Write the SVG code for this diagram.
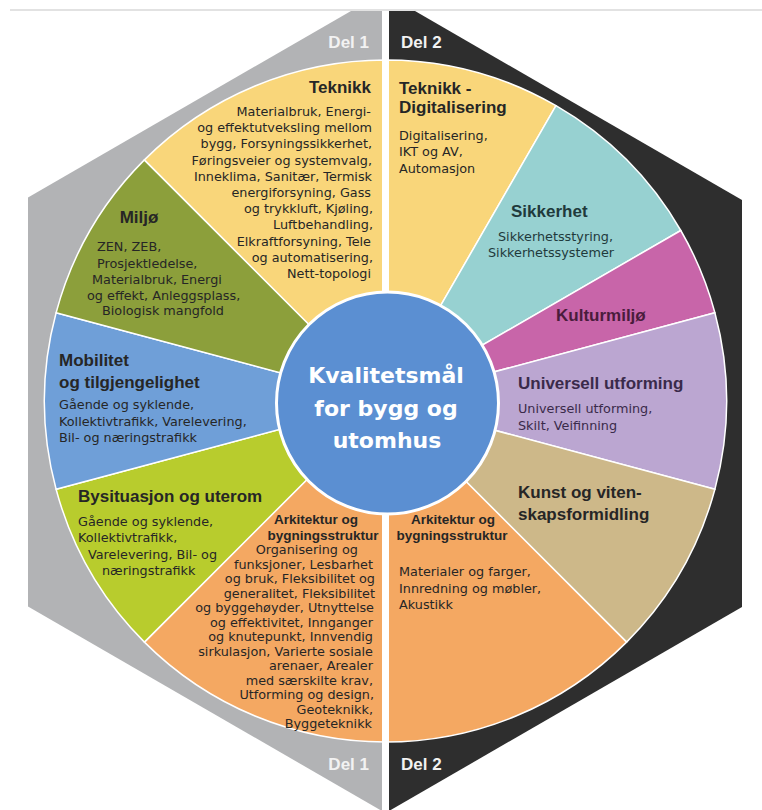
<svg xmlns="http://www.w3.org/2000/svg" width="762" height="810" viewBox="0 0 762 810">
<style>
.seg{stroke:#ffffff;stroke-width:1.5;stroke-linejoin:round}
.t{font-family:"Liberation Sans",Arial,sans-serif;font-weight:bold;font-size:17px;fill:#262626}
.b{font-family:"DejaVu Sans",sans-serif;font-size:12.8px;fill:#262626}
.s{font-family:"Liberation Sans",Arial,sans-serif;font-weight:bold;font-size:13.5px;fill:#262626}
.del{font-family:"Liberation Sans",Arial,sans-serif;font-weight:bold;font-size:17px;fill:#f2f2f2}
.c{font-family:"DejaVu Sans",sans-serif;font-weight:bold;font-size:22px;fill:#ffffff;text-anchor:middle}
.e{text-anchor:end}
.m{text-anchor:middle}
</style>
<rect x="0" y="0" width="762" height="810" fill="#ffffff"/>
<line x1="10" y1="10" x2="762" y2="10" stroke="#e2e2e2" stroke-width="2"/>

<g id="del1">
<polygon points="382,11 351,11 28,197.5 28,606.5 382,811" fill="#b2b3b5"/>
<text class="del e" x="369" y="48">Del 1</text>
<text class="del e" x="369" y="770">Del 1</text>
</g>
<g id="del2">
<polygon points="389,11 415,11 742,200 742,607 389,811" fill="#2e2e2e"/>
<text class="del" x="401" y="48">Del 2</text>
<text class="del" x="401" y="770">Del 2</text>
</g>

<g id="teknikk-digitalisering">
<path class="seg" fill="#f9d67a" d="M385.5,401 L385.5,60 A341,341 0 0 1 556,105.7 Z"/>
<text class="t" x="399" y="94">Teknikk -</text>
<text class="t" x="399" y="113">Digitalisering</text>
<text class="b" x="399" y="139.5">Digitalisering,</text>
<text class="b" x="399" y="156">IKT og AV,</text>
<text class="b" x="399" y="172.5">Automasjon</text>
</g>
<g id="sikkerhet">
<path class="seg" fill="#97d1d1" d="M385.5,401 L556,105.7 A341,341 0 0 1 680.8,230.5 Z"/>
<text class="t" x="511" y="217" style="fill:#1f3a3c">Sikkerhet</text>
<text class="b" x="498" y="241" style="fill:#1f3a3c">Sikkerhetsstyring,</text>
<text class="b" x="488" y="256.5" style="fill:#1f3a3c">Sikkerhetssystemer</text>
</g>
<g id="kulturmiljo">
<path class="seg" fill="#c865a9" d="M385.5,401 L680.8,230.5 A341,341 0 0 1 714.9,312.7 Z"/>
<text class="t" x="556" y="321" style="fill:#4a1c3c">Kulturmiljø</text>
</g>
<g id="universell-utforming">
<path class="seg" fill="#bba6d1" d="M385.5,401 L714.9,312.7 A341,341 0 0 1 714.9,489.3 Z"/>
<text class="t" x="518" y="389" style="fill:#3a2a4a">Universell utforming</text>
<text class="b" x="518" y="413" style="fill:#3a2a4a">Universell utforming,</text>
<text class="b" x="518" y="429.5" style="fill:#3a2a4a">Skilt, Veifinning</text>
</g>
<g id="kunst">
<path class="seg" fill="#cdb889" d="M385.5,401 L714.9,489.3 A341,341 0 0 1 626.6,642.1 Z"/>
<text class="t" x="518" y="498">Kunst og viten-</text>
<text class="t" x="518" y="520">skapsformidling</text>
</g>
<g id="arkitektur-del2">
<path class="seg" fill="#f4a862" d="M385.5,401 L626.6,642.1 A341,341 0 0 1 385.5,742 Z"/>
<text class="s m" x="453" y="524">Arkitektur og</text>
<text class="s m" x="452" y="540">bygningsstruktur</text>
<text class="b" x="399" y="576">Materialer og farger,</text>
<text class="b" x="399" y="592.5">Innredning og møbler,</text>
<text class="b" x="399" y="609">Akustikk</text>
</g>
<g id="arkitektur-del1">
<path class="seg" fill="#f4a862" d="M385.5,401 L385.5,742 A341,341 0 0 1 144.4,642.1 Z"/>
<text class="s m" x="316" y="524">Arkitektur og</text>
<text class="s m" x="323" y="540">bygningsstruktur</text>
<text class="b e" x="358" y="554">Organisering og</text>
<text class="b e" x="373" y="568.5">funksjoner, Lesbarhet</text>
<text class="b e" x="375" y="583">og bruk, Fleksibilitet og</text>
<text class="b e" x="375" y="597.5">generalitet, Fleksibilitet</text>
<text class="b e" x="374" y="612">og byggehøyder, Utnyttelse</text>
<text class="b e" x="373" y="626.5">og effektivitet, Innganger</text>
<text class="b e" x="373" y="641">og knutepunkt, Innvendig</text>
<text class="b e" x="373" y="655.5">sirkulasjon, Varierte sosiale</text>
<text class="b e" x="373" y="670">arenaer, Arealer</text>
<text class="b e" x="373" y="684.5">med særskilte krav,</text>
<text class="b e" x="374" y="699">Utforming og design,</text>
<text class="b e" x="373" y="713.5">Geoteknikk,</text>
<text class="b e" x="372" y="728">Byggeteknikk</text>
</g>
<g id="bysituasjon">
<path class="seg" fill="#b8cc2d" d="M385.5,401 L144.4,642.1 A341,341 0 0 1 56.1,489.3 Z"/>
<text class="t" x="78" y="502">Bysituasjon og uterom</text>
<text class="b" x="78" y="526">Gående og syklende,</text>
<text class="b" x="78" y="542">Kollektivtrafikk,</text>
<text class="b" x="88" y="559">Varelevering, Bil- og</text>
<text class="b" x="102" y="575">næringstrafikk</text>
</g>
<g id="mobilitet">
<path class="seg" fill="#6f9fd8" d="M385.5,401 L56.1,489.3 A341,341 0 0 1 56.1,312.7 Z"/>
<text class="t" x="59" y="366">Mobilitet</text>
<text class="t" x="59" y="388">og tilgjengelighet</text>
<text class="b" x="59" y="409">Gående og syklende,</text>
<text class="b" x="59" y="425.5">Kollektivtrafikk, Varelevering,</text>
<text class="b" x="59" y="442">Bil- og næringstrafikk</text>
</g>
<g id="miljo">
<path class="seg" fill="#8c9f3b" d="M385.5,401 L56.1,312.7 A341,341 0 0 1 144.4,159.9 Z"/>
<text class="t m" x="139" y="223">Miljø</text>
<text class="b" x="97" y="251">ZEN, ZEB,</text>
<text class="b" x="97" y="267.5">Prosjektledelse,</text>
<text class="b" x="92" y="283.5">Materialbruk, Energi</text>
<text class="b" x="87" y="299.5">og effekt, Anleggsplass,</text>
<text class="b" x="102" y="315">Biologisk mangfold</text>
</g>
<g id="teknikk">
<path class="seg" fill="#f9d67a" d="M385.5,401 L144.4,159.9 A341,341 0 0 1 385.5,60 Z"/>
<text class="t e" x="371" y="93">Teknikk</text>
<text class="b e" x="371" y="116">Materialbruk, Energi-</text>
<text class="b e" x="372" y="132.2">og effektutveksling mellom</text>
<text class="b e" x="372" y="148.4">bygg, Forsyningssikkerhet,</text>
<text class="b e" x="372" y="164.6">Føringsveier og systemvalg,</text>
<text class="b e" x="372" y="180.8">Inneklima, Sanitær, Termisk</text>
<text class="b e" x="371" y="197">energiforsyning, Gass</text>
<text class="b e" x="373" y="213.2">og trykkluft, Kjøling,</text>
<text class="b e" x="373" y="229.4">Luftbehandling,</text>
<text class="b e" x="371" y="245.6">Elkraftforsyning, Tele</text>
<text class="b e" x="373" y="261.8">og automatisering,</text>
<text class="b e" x="371" y="278">Nett-topologi</text>
</g>

<rect id="divider" x="382" y="11" width="7" height="800" fill="#ffffff"/>

<g id="center">
<circle cx="387.5" cy="403" r="111" fill="#5b8fd2" stroke="#ffffff" stroke-width="3"/>
<text class="c" x="386" y="383">Kvalitetsmål</text>
<text class="c" x="386" y="416">for bygg og</text>
<text class="c" x="387" y="448">utomhus</text>
</g>

<g id="connectors"></g>
</svg>
